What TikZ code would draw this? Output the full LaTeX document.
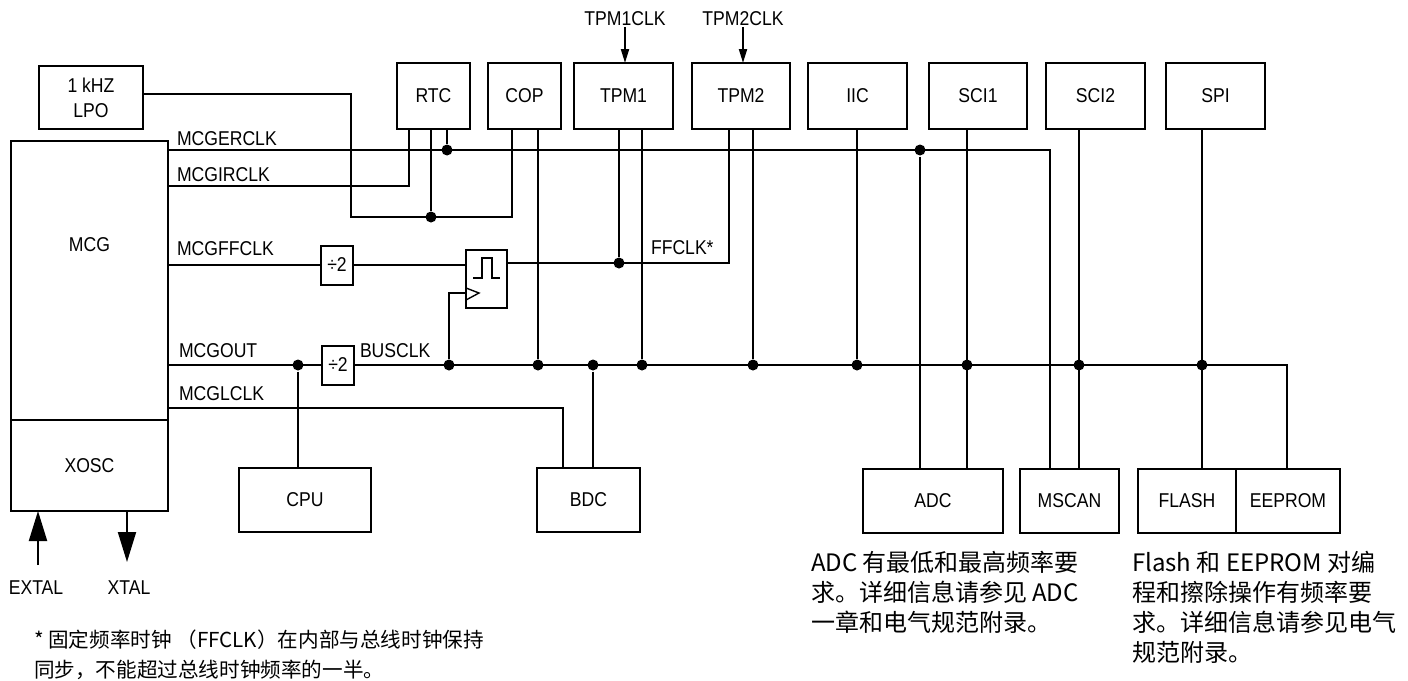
\documentclass[tikz,border=0pt]{standalone}
\usepackage{fontspec}
\setmainfont[FakeStretch=0.88]{Liberation Sans}
\newfontfamily\cjk{Noto Sans CJK SC}
\usetikzlibrary{arrows.meta,positioning}

\begin{document}
\begin{tikzpicture}[
        x=0.5pt, y=-0.5pt, line width=1pt,
        box/.style={draw, line width=1pt, inner sep=0pt, outer sep=0pt, align=center, font=\fontsize{10}{12.5}\selectfont},
        topbox/.style={box, minimum height=33pt},
        botbox/.style={box, minimum height=32pt},
        divbox/.style={box, minimum width=16pt, minimum height=19.5pt},
        sig/.style={inner sep=0pt, anchor=west, font=\fontsize{10}{11}\selectfont},
        pin/.style={inner sep=0pt, font=\fontsize{10}{11}\selectfont},
        dot/.style={circle, fill, inner sep=0pt, minimum size=5.5pt},
        note/.style={inner sep=0pt, anchor=north west, align=left, font=\cjk\fontsize{12}{15}\selectfont},
        clkarrow/.style={-{Triangle[length=7pt,width=4pt]}},
        pinarrow/.style={-{Triangle[length=15pt,width=9pt]}}
    ]
        \useasboundingbox (0,0) rectangle (1408,680);

        % Clock sources
        \node[box, minimum width=52pt, minimum height=31.5pt] (lpo) at (91,97.5) {1 kHZ\\LPO};
        \node[box, minimum width=78.5pt, minimum height=139.5pt] (mcg) at (89.5,280.5) {};
        \node[box, draw=none] (mcgtxt) at (89.5,245) {MCG};
        \node[box, minimum width=78.5pt, minimum height=45.5pt, below=0pt of mcg] (xosc) {XOSC};

        % Peripherals, top row
        \node[topbox, minimum width=36.5pt] (rtc) at (433.5,96) {RTC};
        \node[topbox, minimum width=36.5pt] (cop) at (524.5,96) {COP};
        \node[topbox, minimum width=49.5pt] (tpm1) at (623.5,96) {TPM1};
        \node[topbox, minimum width=49pt] (tpm2) at (741,96) {TPM2};
        \node[topbox, minimum width=49.5pt] (iic) at (857.5,96) {IIC};
        \node[topbox, minimum width=49pt] (sci1) at (978,96) {SCI1};
        \node[topbox, minimum width=49.5pt] (sci2) at (1095.5,96) {SCI2};
        \node[topbox, minimum width=49.5pt] (spi) at (1215.5,96) {SPI};

        % Peripherals, bottom row
        \node[botbox, minimum width=66pt] (cpu) at (305,500) {CPU};
        \node[botbox, minimum width=51.5pt] (bdc) at (588.5,500) {BDC};
        \node[botbox, minimum width=70pt] (adc) at (933,501) {ADC};
        \node[botbox, minimum width=49.5pt] (mscan) at (1069.5,501) {MSCAN};
        \node[botbox, minimum width=49pt] (flash) at (1187,501) {FLASH};
        \node[botbox, minimum width=52pt, right=0pt of flash] (eeprom) {EEPROM};

        % Dividers and sync flip-flop
        \node[divbox] (divff) at (337,265) {÷2};
        \node[divbox] (divbus) at (338,365) {÷2};
        \node[box, minimum width=20.5pt, minimum height=29pt] (ff) at (486.5,279) {};
        \draw[line width=0.9pt] (473,278) -- (482,278) -- (482,258) -- (492,258) -- (492,278) -- (500,278);
        \draw[line width=0.7pt] (466,288) -- (479,293) -- (466,300);

        % Signal labels
        \node[sig] (lerclk) at (176,139) {MCGERCLK};
        \node[sig] (lirclk) at (176,175) {MCGIRCLK};
        \node[sig] (lffclk) at (176,249) {MCGFFCLK};
        \node[sig] (lout) at (178,351) {MCGOUT};
        \node[sig] (llclk) at (178,394) {MCGLCLK};
        \node[sig] (lbus) at (359,351) {BUSCLK};
        \node[sig] (lff) at (650,248) {FFCLK*};
        \node[pin] (tpm1clk) at (625,19) {TPM1CLK};
        \node[pin] (tpm2clk) at (743,19) {TPM2CLK};
        \node[pin] (extal) at (36,588) {EXTAL};
        \node[pin] (xtal) at (129,588) {XTAL};
        \coordinate (extalpin) at (38,565);
        \coordinate (xtalpin) at (127,562);

        % MCGERCLK
        \draw (mcg.east |- 0,150) -| (mscan.north -| 1050,0);
        \node[dot] (dercrtc) at (447,150) {};
        \draw (rtc.south -| dercrtc) -- (dercrtc);
        \node[dot] (dercadc) at (920,150) {};
        \draw (dercadc) -- (adc.north -| dercadc);

        % MCGIRCLK
        \draw (mcg.east |- 0,186) -| (rtc.south -| 409,0);

        % LPO
        \draw (lpo.east |- 0,94) -| (351,217) -| (cop.south -| 512,0);
        \node[dot] (dlpo) at (431,217) {};
        \draw (dlpo) -- (rtc.south -| dlpo);

        % MCGFFCLK / FFCLK
        \draw (mcg.east |- divff) -- (divff);
        \draw (divff.east) -- (ff.west |- divff.east);
        \draw (ff.east |- 0,263) -| (tpm2.south -| 729,0);
        \node[dot] (dff) at (619,263) {};
        \draw (dff) -- (tpm1.south -| dff);

        % MCGOUT / BUSCLK
        \draw (mcg.east |- divbus) -- (divbus);
        \node[dot] (dcpu) at (298,365) {};
        \draw (dcpu) -- (cpu.north -| dcpu);
        \draw (divbus.east) -| (eeprom.north -| 1287,0);
        \node[dot] (dclk) at (449,365) {};
        \draw (dclk) |- (ff.west |- 0,293);
        \node[dot] (dcop) at (538,365) {};
        \draw (dcop) -- (cop.south -| dcop);
        \node[dot] (dbdc) at (593,365) {};
        \draw (dbdc) -- (bdc.north -| dbdc);
        \node[dot] (dtpm1) at (642,365) {};
        \draw (dtpm1) -- (tpm1.south -| dtpm1);
        \node[dot] (dtpm2) at (753,365) {};
        \draw (dtpm2) -- (tpm2.south -| dtpm2);
        \node[dot] (diic) at (857,365) {};
        \draw (diic) -- (iic.south -| diic);
        \node[dot] (dsci1) at (967,365) {};
        \draw (sci1.south -| dsci1) -- (adc.north -| dsci1);
        \node[dot] (dsci2) at (1079,365) {};
        \draw (sci2.south -| dsci2) -- (mscan.north -| dsci2);
        \node[dot] (dspi) at (1202,365) {};
        \draw (spi.south -| dspi) -- (flash.north -| dspi);

        % MCGLCLK
        \draw (mcg.east |- 0,408) -| (bdc.north -| 563,0);

        % External clock inputs
        \draw[clkarrow] (tpm1clk.south) -- (tpm1clk.south |- tpm1.north);
        \draw[clkarrow] (tpm2clk.south) -- (tpm2clk.south |- tpm2.north);
        \draw[pinarrow] (extalpin) -- (xosc.south -| extalpin);
        \draw[pinarrow] (xosc.south -| xtalpin) -- (xtalpin);

        % Notes
        \node[note] (adcnote) at (810,550) {ADC 有最低和最高频率要\\求。详细信息请参见 ADC\\一章和电气规范附录。};
        \node[note] (flashnote) at (1131,550) {Flash 和 EEPROM 对编\\程和擦除操作有频率要\\求。详细信息请参见电气\\规范附录。};
        \node[note, font=\cjk\fontsize{10.3}{15}\selectfont] (ffnote) at (33,629) {* 固定频率时钟 （FFCLK）在内部与总线时钟保持\\同步，不能超过总线时钟频率的一半。};
    \end{tikzpicture}
\end{document}
